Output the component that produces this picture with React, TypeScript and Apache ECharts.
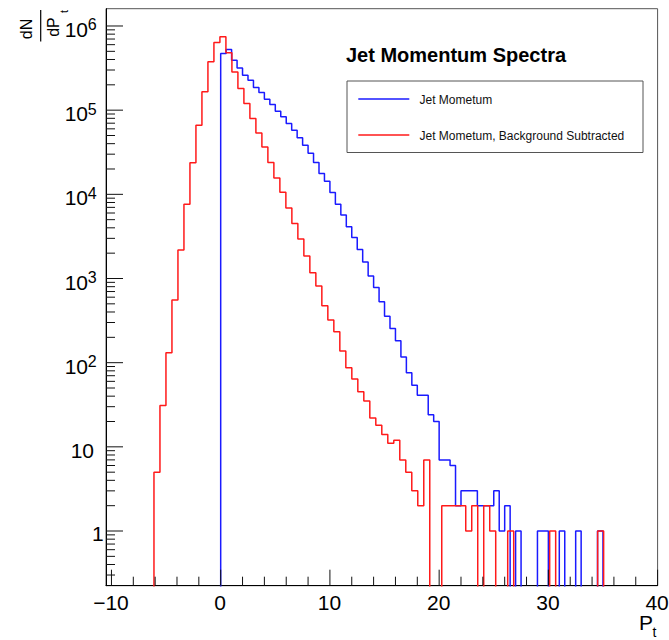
import React, { useEffect, useRef } from 'react';
import * as echarts from 'echarts';

// ---- axis ranges ----
const X_MIN = -10.5;
const X_MAX = 40;
const Y_MIN = 0.224;
const Y_MAX = 1.605e6;
const FLOOR = 1e-3; // empty bins are drawn below the axis (clipped)

// ---- tick labels ----
const xMajorTicks = [-10, 0, 10, 20, 30, 40];
const xTickLabels = ['\u221210', '0', '10', '20', '30', '40'];
const xMinorStep = 2;
const yMajorTicks = [1, 10, 100, 1000, 10000, 100000, 1000000];
const yTickBase = ['1', '10', '10', '10', '10', '10', '10'];
const yTickExponent = ['', '', '2', '3', '4', '5', '6'];
const yMinorMultipliers = [2, 3, 4, 5, 6, 7, 8, 9];

// ---- texts ----
const chartTitle = 'Jet Momentum Spectra';
const blueName = 'Jet Mometum';
const redName = 'Jet Mometum, Background Subtracted';

// ---- blue histogram: bins of 0.5 starting at 0 ----
const blueBinStart = 0;
const blueBinWidth = 0.5;
const blueCounts = [
  471000, 526000, 393000, 318000, 260000, 227000, 186000, 162000, 135000, 117000,
  97300, 83300, 69500, 57800, 47100, 38400, 30800, 23900, 17700, 14300,
  10500, 7650, 5670, 4110, 3075, 2215, 1566, 1068, 784, 529,
  357, 255, 182, 117, 76, 54, 41, 41, 24, 20,
  7, 7, 6, 2, 3, 3, 3, 2, 2, 2,
  3, 1, 2, 0, 1, 0, 0, 0, 1, 1,
  0, 0, 1, 0, 0, 1, 0, 0, 0, 1,
  0,
];

// ---- red histogram: 92 bins between -10.5 and 40 ----
const redBinStart = -10.5;
const redBinWidth = 50.5 / 92;
const redCounts = [
  0, 0, 0, 0, 0, 0, 0, 0, 5, 31,
  131, 554, 2175, 7650, 23700, 66400, 165000, 375000, 637000, 743000,
  480000, 285000, 181000, 120000, 79700, 53700, 36600, 23900, 15600, 10600,
  6900, 4510, 2940, 1845, 1170, 812, 474, 321, 233, 138,
  87, 64, 45, 35, 22, 18, 14, 11, 12, 7,
  5, 3, 2, 7, 0, 0, 2, 2, 2, 2,
  1, 2, 0, 2, 1, 0, 0, 1, 0, 0,
  0, 0, 0, 0, 1, 0, 0, 0, 0, 0,
  0, 0, 1, 0,
];

const FONT = '"Liberation Sans", Arial, Helvetica, sans-serif';

function stepPoints(start: number, width: number, counts: number[]) {
  const pts: number[][] = [[start, FLOOR]];
  counts.forEach((c, i) => pts.push([start + i * width, c > 0 ? c : FLOOR]));
  const n = counts.length;
  const lastVal = counts[n - 1] > 0 ? counts[n - 1] : FLOOR;
  pts.push([start + n * width, lastVal]);
  pts.push([start + n * width, FLOOR]);
  return pts;
}

function renderAxes(_params: any, api: any) {
  const origin = api.coord([X_MIN, Y_MIN]);
  const left = origin[0];
  const bottom = origin[1];
  const children: any[] = [];
  const tick = (x1: number, y1: number, x2: number, y2: number) => ({
    type: 'line',
    shape: { x1, y1, x2, y2 },
    style: { stroke: '#111', lineWidth: 1 },
  });
  // x minor ticks
  for (let i = 0; i < xMajorTicks.length - 1; i++) {
    for (let v = xMajorTicks[i] + xMinorStep; v < xMajorTicks[i + 1] - 1e-9; v += xMinorStep) {
      const x = api.coord([v, Y_MIN])[0];
      children.push(tick(x, bottom, x, bottom - 9));
    }
  }
  // x major ticks + labels
  xMajorTicks.forEach((v, i) => {
    const x = api.coord([v, Y_MIN])[0];
    children.push(tick(x, bottom, x, bottom - 16));
    children.push({
      type: 'text',
      x: x - 0.5,
      y: bottom + 17,
      style: {
        text: xTickLabels[i], fontSize: 21, fontFamily: FONT, fill: '#000',
        align: 'center', verticalAlign: 'middle',
      },
    });
  });
  // y minor ticks
  for (let e = -1; e <= 6; e++) {
    yMinorMultipliers.forEach((m) => {
      const v = m * Math.pow(10, e);
      if (v > Y_MIN && v < Y_MAX) {
        const y = api.coord([X_MIN, v])[1];
        children.push(tick(left, y, left + 9, y));
      }
    });
  }
  // y major ticks + labels
  yMajorTicks.forEach((v, i) => {
    const y = api.coord([X_MIN, v])[1];
    children.push(tick(left, y, left + 17, y));
    const exp = yTickExponent[i];
    if (!exp) {
      const base = yTickBase[i];
      children.push({
        type: 'text',
        x: base.length === 1 ? left - 2.3 : left - 12,
        y: y + (base.length === 1 ? 2 : 3.5),
        style: {
          text: base, fontSize: 21, fontFamily: FONT, fill: '#000',
          align: 'right', verticalAlign: 'middle',
        },
      });
    } else {
      children.push({
        type: 'text',
        x: left - 18,
        y: y + 3.5,
        style: {
          text: yTickBase[i], fontSize: 21, fontFamily: FONT, fill: '#000',
          align: 'right', verticalAlign: 'middle',
        },
      });
      children.push({
        type: 'text',
        x: left - 18.2,
        y: y - 1,
        style: {
          text: exp, fontSize: 16, fontFamily: FONT, fill: '#000',
          align: 'left', verticalAlign: 'middle',
        },
      });
    }
  });
  return { type: 'group', children };
}

export default function App() {
  const ref = useRef<HTMLDivElement>(null);

  useEffect(() => {
    if (!ref.current) return;
    const chart = echarts.init(ref.current, undefined, { renderer: 'svg' });
    const option: any = {
      animation: false,
      backgroundColor: '#ffffff',
      grid: {
        left: 106,
        top: 8.7,
        right: 11.4,
        bottom: 54.3,
        containLabel: false,
        outerBoundsMode: 'none',
        show: true,
        borderColor: '#555',
        borderWidth: 1,
        backgroundColor: 'transparent',
      },
      xAxis: {
        type: 'value',
        min: X_MIN,
        max: X_MAX,
        axisLine: { show: true, onZero: false, lineStyle: { color: '#000', width: 1 } },
        axisTick: { show: false },
        axisLabel: { show: false },
        splitLine: { show: false },
      },
      yAxis: {
        type: 'log',
        logBase: 10,
        min: Y_MIN,
        max: Y_MAX,
        axisLine: { show: true, onZero: false, lineStyle: { color: '#000', width: 1 } },
        axisTick: { show: false },
        axisLabel: { show: false },
        splitLine: { show: false },
        minorTick: { show: false },
        minorSplitLine: { show: false },
      },
      series: [
        {
          name: blueName,
          type: 'line',
          step: 'end',
          data: stepPoints(blueBinStart, blueBinWidth, blueCounts),
          showSymbol: false,
          symbol: 'none',
          clip: true,
          silent: true,
          lineStyle: { color: '#1a1aff', width: 1.5 },
          z: 3,
        },
        {
          name: redName,
          type: 'line',
          step: 'end',
          data: stepPoints(redBinStart, redBinWidth, redCounts),
          showSymbol: false,
          symbol: 'none',
          clip: true,
          silent: true,
          lineStyle: { color: '#ff1a1a', width: 1.5 },
          z: 4,
        },
        {
          type: 'custom',
          silent: true,
          clip: false,
          z: 6,
          data: [[0, 1]],
          renderItem: renderAxes,
        },
      ],
      graphic: [
        // y-axis title: dN / dP_t (rotated)
        {
          type: 'text', x: 26.5, y: 29, rotation: Math.PI / 2,
          style: { text: 'dN', fontSize: 16, fontFamily: FONT, fill: '#000', align: 'center', verticalAlign: 'middle' },
        },
        {
          type: 'line', shape: { x1: 40.7, y1: 10, x2: 40.7, y2: 41.5 },
          style: { stroke: '#000', lineWidth: 1.2 },
        },
        {
          type: 'text', x: 53.5, y: 27, rotation: Math.PI / 2,
          style: { text: 'dP', fontSize: 16, fontFamily: FONT, fill: '#000', align: 'center', verticalAlign: 'middle' },
        },
        {
          type: 'text', x: 63.5, y: 11.5, rotation: Math.PI / 2,
          style: { text: 't', fontSize: 11, fontFamily: FONT, fill: '#000', align: 'center', verticalAlign: 'middle' },
        },
        // x-axis title: P_t
        {
          type: 'text', x: 639, y: 622.5,
          style: { text: 'P', fontSize: 21, fontFamily: FONT, fill: '#000', align: 'left', verticalAlign: 'middle' },
        },
        {
          type: 'text', x: 652.5, y: 631.5,
          style: { text: 't', fontSize: 14, fontFamily: FONT, fill: '#000', align: 'left', verticalAlign: 'middle' },
        },
        // title
        {
          type: 'text', x: 346, y: 54.5,
          style: { text: chartTitle, fontSize: 20, fontWeight: 'bold', fontFamily: FONT, fill: '#000', align: 'left', verticalAlign: 'middle' },
        },
        // legend box
        {
          type: 'rect', shape: { x: 347, y: 81, width: 296, height: 71.5 },
          style: { fill: '#fff', stroke: '#555', lineWidth: 1 },
        },
        {
          type: 'line', shape: { x1: 358.3, y1: 99, x2: 409.3, y2: 99 },
          style: { stroke: '#1a1aff', lineWidth: 1.3 },
        },
        {
          type: 'text', x: 419.5, y: 99.5,
          style: { text: blueName, fontSize: 12, fontFamily: FONT, fill: '#111', align: 'left', verticalAlign: 'middle' },
        },
        {
          type: 'line', shape: { x1: 358.3, y1: 135, x2: 409.3, y2: 135 },
          style: { stroke: '#ff1a1a', lineWidth: 1.3 },
        },
        {
          type: 'text', x: 419.5, y: 135.5,
          style: { text: redName, fontSize: 12, fontFamily: FONT, fill: '#111', align: 'left', verticalAlign: 'middle' },
        },
      ],
    };
    chart.setOption(option);
    return () => chart.dispose();
  }, []);

  return (
    <div
      ref={ref}
      style={{ position: 'absolute', left: 0, top: 0, width: 669, height: 640, background: '#fff' }}
    />
  );
}
